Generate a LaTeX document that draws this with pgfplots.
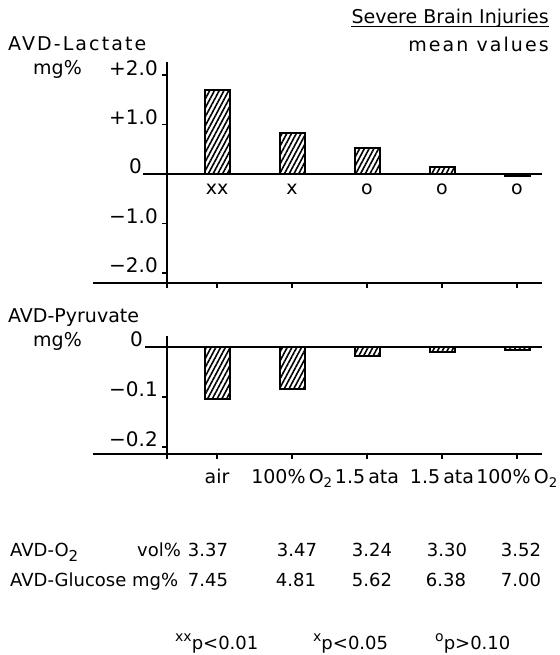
\documentclass[border=0pt]{standalone}
\usepackage{fontspec}
\setmainfont{DejaVu Sans}
\newfontfamily\spaced[LetterSpace=11]{DejaVu Sans}
\usepackage{pgfplots}
\pgfplotsset{compat=1.18}
\usetikzlibrary{patterns.meta}

\pgfplotstableread{
x v
50 1.70
125 0.83
200 0.52
275 0.14
350 -0.04
}\lactate
\pgfplotstableread{
x v
50 -0.104
125 -0.084
200 -0.018
275 -0.010
350 -0.006
}\pyruvate

\pgfplotsset{
  panel/.style={
    scale only axis, width=449bp,
    xmin=-74, xmax=375,
    axis x line=bottom, axis y line=middle,
    axis line style={-, line width=1.7bp},
    hide obscured x ticks=false, hide obscured y ticks=false,
    xtick={0,50,125,200,275,350},
    tick align=outside,
    major tick length=5bp,
    every tick/.style={black, line width=1.5bp},
    yticklabel style={anchor=base east, inner sep=0pt, xshift=-4bp, font=\fontsize{20bp}{22bp}\selectfont},
    ybar, bar width=25bp,
    clip=false,
  },
  hbar/.style={draw=black, line width=2bp, pattern={Lines[angle=62,distance=4.2bp,line width=1.6bp]}, pattern color=black},
}

\begin{document}
\fontsize{19bp}{22bp}\selectfont
\begin{tikzpicture}[x=1bp,y=1bp]
\path[use as bounding box] (0,0) rectangle (560,655);

% ---- top panel: lactate
\begin{axis}[panel,
  at={(93bp,372bp)}, anchor=south west, height=221bp,
  ymin=-2.202, ymax=2.263,
  ytick={-2,-1,0,1,2},
  yticklabels={−2.0,−1.0,,+1.0,+2.0},
  xticklabels={},
]
\addplot[hbar] table[x=x,y=v] {\lactate};
\draw[line width=1.7bp] (axis cs:-24,0) -- (axis cs:375,0);
\node[anchor=base east, inner sep=0pt, font=\fontsize{20bp}{22bp}\selectfont] at (axis cs:-25,0) {0};
\node at (axis cs:50,-0.30) {xx};
\node at (axis cs:125,-0.30) {x};
\node at (axis cs:200,-0.30) {o};
\node at (axis cs:275,-0.30) {o};
\node at (axis cs:350,-0.30) {o};
\end{axis}

% ---- bottom panel: pyruvate
\begin{axis}[panel,
  at={(93bp,201bp)}, anchor=south west, height=118bp,
  ymin=-0.214, ymax=0.022,
  ytick={-0.2,-0.1,0},
  yticklabels={−0.2,−0.1,},
  xticklabels={,air,100\%\,O\textsubscript{2},1.5\,ata,1.5\,ata,100\%\,O\textsubscript{2}},
  xticklabel style={anchor=base, inner sep=0pt, yshift=-25bp},
]
\addplot[hbar] table[x=x,y=v] {\pyruvate};
\draw[line width=1.7bp] (axis cs:-22,0) -- (axis cs:375,0);
\node[anchor=base east, inner sep=0pt, font=\fontsize{20bp}{22bp}\selectfont] at (axis cs:-24,0) {0};
\end{axis}

% ---- titles and labels
\node[anchor=base west, inner sep=0pt] at (8,604) {\spaced AVD-Lactate};
\node[anchor=base west, inner sep=0pt] at (33,580) {mg\%};
\node[anchor=base east, inner sep=0pt] (sbi) at (549,631) {Severe Brain Injuries};
\draw[line width=1bp] ([yshift=-3bp]sbi.base west) -- ([yshift=-3bp]sbi.base east);
\node[anchor=base east, inner sep=0pt] at (549,603) {\spaced mean values};
\node[anchor=base west, inner sep=0pt] at (8,332) {AVD-Pyruvate};
\node[anchor=base west, inner sep=0pt] at (33,308) {mg\%};

% ---- table rows
\begin{scope}[every node/.style={inner sep=0pt, font=\fontsize{18bp}{20bp}\selectfont}]
\node[anchor=base west] at (10,98) {AVD-O\raisebox{-5bp}{\fontsize{15bp}{15bp}\selectfont 2}};
\node[anchor=base west] at (137,98) {vol\%};
\node[anchor=base] at (208,98) {3.37};
\node[anchor=base] at (297,98) {3.47};
\node[anchor=base] at (372,98) {3.24};
\node[anchor=base] at (447,98) {3.30};
\node[anchor=base] at (521,98) {3.52};
\node[anchor=base west] at (10,68) {AVD-Glucose mg\%};
\node[anchor=base] at (208,68) {7.45};
\node[anchor=base] at (296,68) {4.81};
\node[anchor=base] at (372,68) {5.62};
\node[anchor=base] at (446,68) {6.38};
\node[anchor=base] at (521,68) {7.00};

% ---- footnotes
\node[anchor=base west] at (175,5) {\raisebox{8bp}{\fontsize{14bp}{14bp}\selectfont xx}p<0.01};
\node[anchor=base west] at (313,5) {\raisebox{8bp}{\fontsize{14bp}{14bp}\selectfont x}p<0.05};
\node[anchor=base west] at (435,5) {\raisebox{8bp}{\fontsize{14bp}{14bp}\selectfont o}p>0.10};
\end{scope}
\end{tikzpicture}
\end{document}
